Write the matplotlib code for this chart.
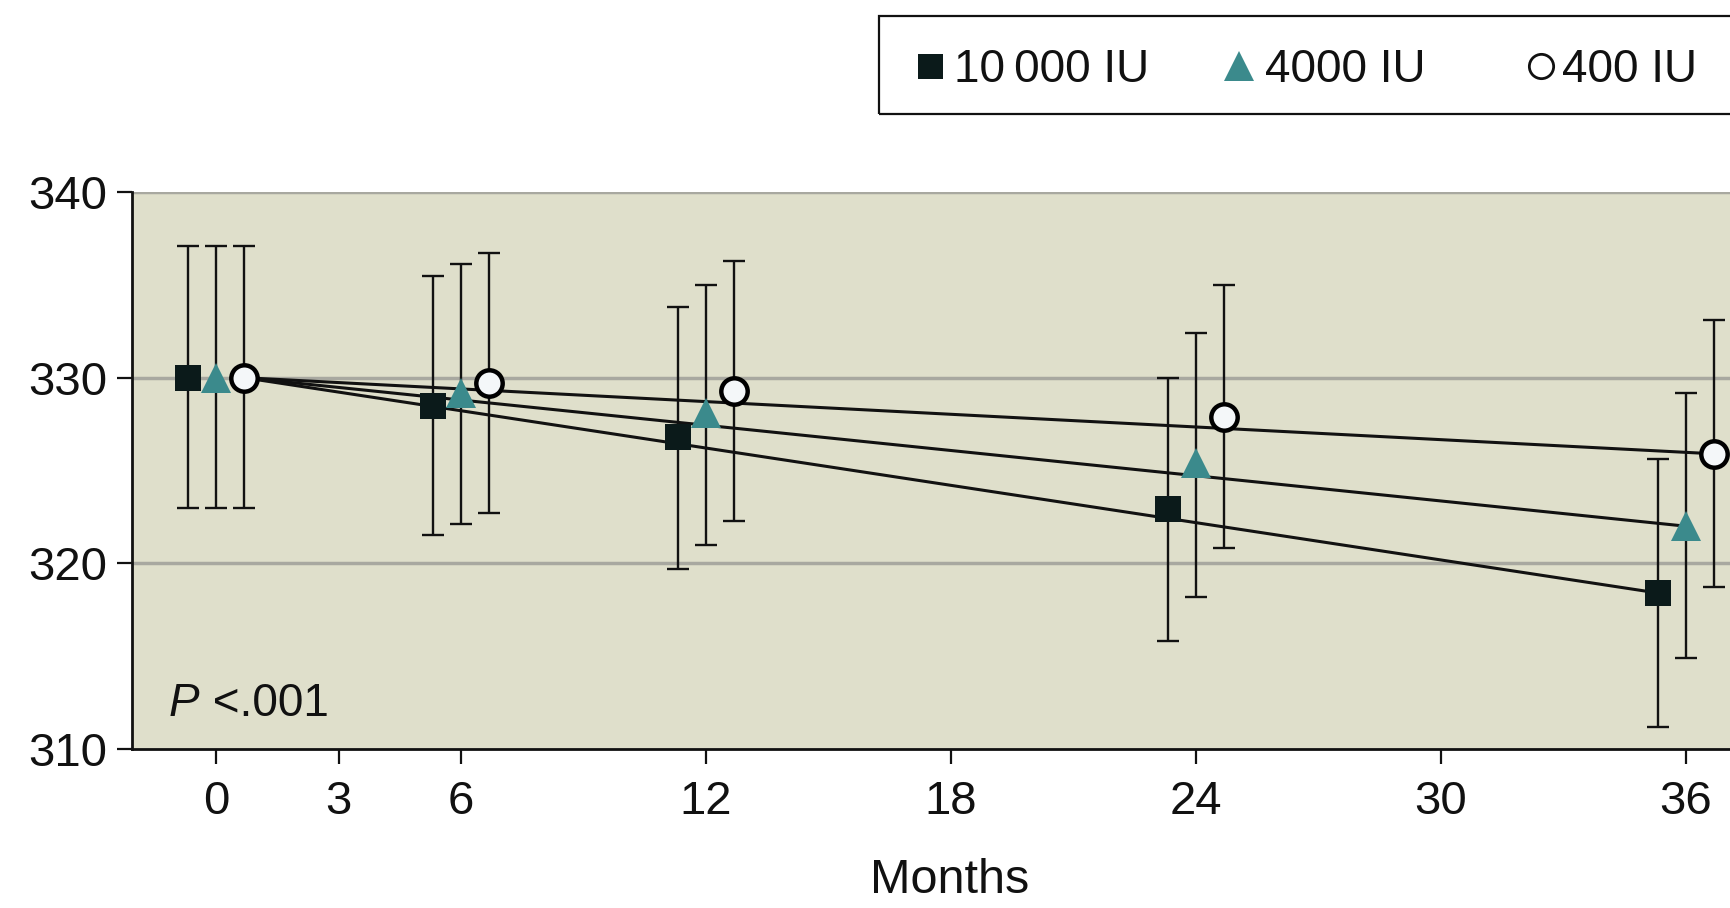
import matplotlib
matplotlib.use("Agg")
import matplotlib.pyplot as plt
from matplotlib.lines import Line2D
from matplotlib.patches import Rectangle
import numpy as np

plt.rcParams['font.family'] = ['Liberation Sans', 'DejaVu Sans']

# ---- data ----
months = [0, 6, 12, 24, 36]
xtick_values = [0, 3, 6, 12, 18, 24, 30, 36]
ytick_values = [310, 320, 330, 340]
series_labels = ["10\u2009000 IU", "4000 IU", "400 IU"]

mean_10000 = [330.0, 328.5, 326.8, 322.9, 318.4]
low_10000 = [323.0, 321.5, 319.7, 315.8, 311.2]
high_10000 = [337.1, 335.5, 333.8, 330.0, 325.6]

mean_4000 = [330.0, 329.2, 328.1, 325.4, 322.0]
low_4000 = [323.0, 322.1, 321.0, 318.2, 314.9]
high_4000 = [337.1, 336.1, 335.0, 332.4, 329.2]

mean_400 = [330.0, 329.7, 329.3, 327.9, 325.9]
low_400 = [323.0, 322.7, 322.3, 320.8, 318.7]
high_400 = [337.1, 336.7, 336.3, 335.0, 333.1]

p_label = "P"
p_text = " <.001"
xlabel = "Months"

# ---- styling ----
bg = '#dfdfcb'
teal = '#3b8a8c'
dark = '#0b1a1a'
grid_c = '#a8a8a0'
ink = '#111111'

W, H = 1730, 908
fig = plt.figure(figsize=(W / 100, H / 100), dpi=100)
fig.patch.set_facecolor('white')

ax_left = 132.4 / W
ax_bottom = 1 - 749 / H
ax_height = (749 - 192) / H
ax_right_px = 1767.6
ax_w_px = ax_right_px - 132.4
ax = fig.add_axes([ax_left, ax_bottom, ax_w_px / W, ax_height])
ax.set_facecolor(bg)
ax.set_xlim(-2.05, 38.0)
ax.set_ylim(310, 340)

series = [
    (mean_10000, low_10000, high_10000, -0.68, dict(marker='s', ms=19, mfc=dark, mec=dark, mew=0)),
    (mean_4000, low_4000, high_4000, 0.0, dict(marker='^', ms=21, mfc=teal, mec=teal, mew=0)),
    (mean_400, low_400, high_400, 0.68, dict(marker='o', ms=19, mfc='#f4f7f9', mec='black', mew=3.2)),
]

# gridlines
for yv in [320, 330, 340]:
    ax.axhline(yv, color=grid_c, lw=2.5, zorder=1)

start_x = months[0] + series[2][3]
for mean, lo, hi, off, mk in series:
    x = np.array(months) + off
    m = np.array(mean)
    yerr = np.vstack([m - np.array(lo), np.array(hi) - m])
    ax.errorbar(x, m, yerr=yerr, fmt='none', ecolor=ink, elinewidth=1.7,
                capsize=8, capthick=1.7, zorder=2)
    # trend line from baseline to final visit
    ax.plot([start_x, x[-1]], [mean[0], mean[-1]], color=ink, lw=2.2, zorder=3,
            solid_capstyle='butt')
    ax.plot(x, m, linestyle='none', zorder=4, **mk)

# spines
for s in ['top', 'right']:
    ax.spines[s].set_visible(False)
for s in ['left', 'bottom']:
    ax.spines[s].set_linewidth(2.0)
    ax.spines[s].set_color(ink)

ax.set_xticks(xtick_values)
ax.set_xticklabels([str(v) for v in xtick_values])
ax.set_yticks(ytick_values)
ax.set_yticklabels([str(v) for v in ytick_values])
ax.tick_params(axis='x', direction='out', length=11, width=1.6, pad=11, labelsize=34, colors=ink)
ax.tick_params(axis='y', direction='out', length=11, width=1.6, pad=7, labelsize=34, colors=ink)

ax.set_xlabel(xlabel, fontsize=35, labelpad=25, color=ink)

pt = ax.text((169 - 132.4) / ax_w_px, 0.08, p_label, style='italic', fontsize=33,
             transform=ax.transAxes, va='center', ha='left', color=ink)
ax.annotate(p_text, xy=(1.0, 0.5), xycoords=pt, va='center', ha='left',
            fontsize=33, color=ink)

# ---- legend box (manual, runs past the right edge like the reference) ----
box = Rectangle((879 / W, 1 - 113.6 / H), (1790 - 879) / W, (113.6 - 16.5) / H,
                transform=fig.transFigure, fill=False, edgecolor=ink, lw=1.6,
                clip_on=False)
fig.add_artist(box)
leg_marker_y = 1 - 66 / H
leg_text_y = 1 - 70 / H
leg_marker_x = [930, 1239, 1541]
leg_text_x = [954, 1265, 1562]
leg_markers = [
    dict(marker='s', ms=18, mfc=dark, mec=dark, mew=0),
    dict(marker='^', ms=21, mfc=teal, mec=teal, mew=0),
    dict(marker='o', ms=17.5, mfc='white', mec=ink, mew=2.0),
]
for lbl, mx, tx, mk in zip(series_labels, leg_marker_x, leg_text_x, leg_markers):
    fig.add_artist(Line2D([mx / W], [leg_marker_y], transform=fig.transFigure,
                          linestyle='none', **mk))
    fig.text(tx / W, leg_text_y, lbl, fontsize=33, va='center', ha='left', color=ink)

fig.savefig('out.png', dpi=100, facecolor='white')
